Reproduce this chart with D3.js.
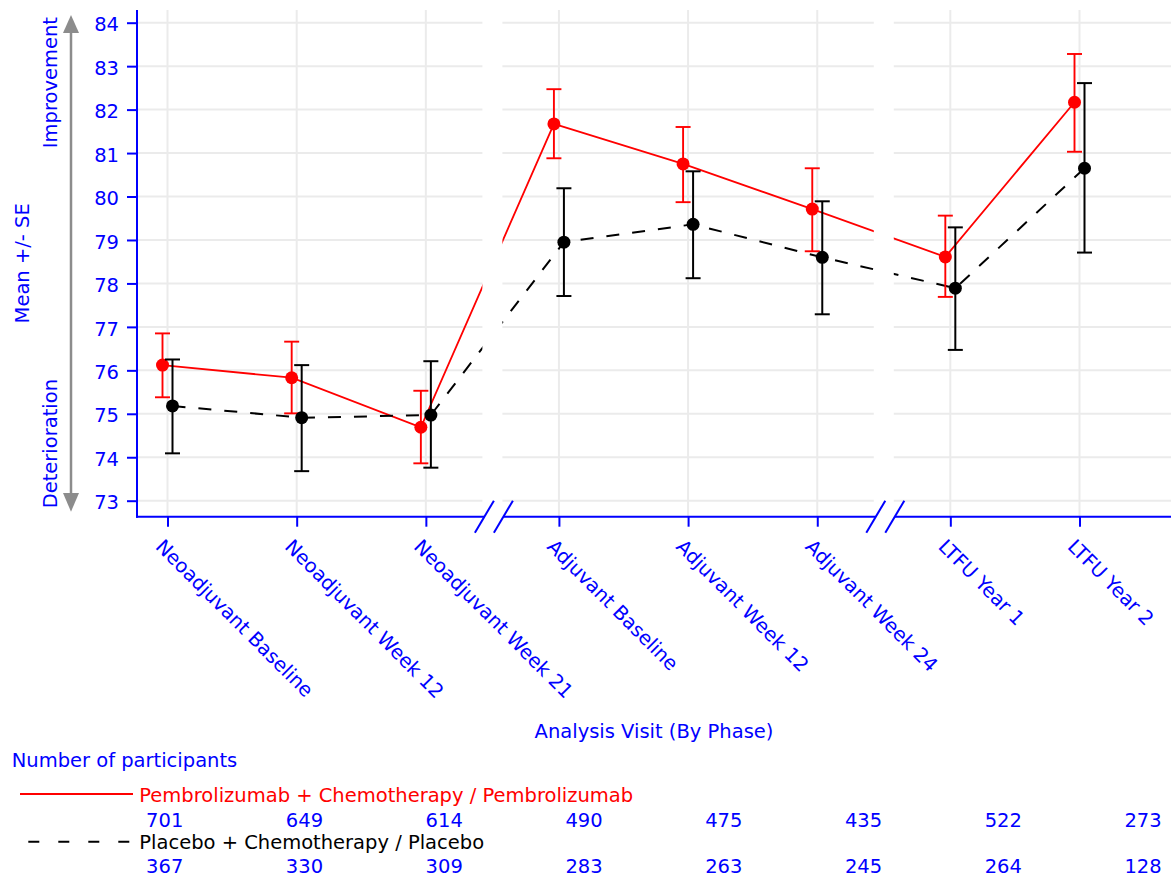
<!DOCTYPE html>
<html>
<head>
<meta charset="utf-8">
<script src="https://cdn.jsdelivr.net/npm/d3@7"></script>
<style>
  html, body { margin: 0; padding: 0; background: #fff; }
  svg { display: block; font-family: "DejaVu Sans", sans-serif; }
</style>
</head>
<body>
<svg id="chart" width="1171" height="878"></svg>
<script>
// ---- data ----
const categories = ["Neoadjuvant Baseline", "Neoadjuvant Week 12", "Neoadjuvant Week 21",
  "Adjuvant Baseline", "Adjuvant Week 12", "Adjuvant Week 24", "LTFU Year 1", "LTFU Year 2"];
const phases = [0, 0, 0, 1, 1, 1, 2, 2];
const pembroMean = [76.12, 75.83, 74.69, 81.67, 80.75, 79.71, 78.61, 82.17];
const pembroLow  = [75.38, 75.01, 73.86, 80.88, 79.87, 78.74, 77.69, 81.03];
const pembroHigh = [76.85, 76.66, 75.53, 82.47, 81.60, 80.65, 79.56, 83.28];
const placeboMean = [75.18, 74.91, 74.97, 78.95, 79.36, 78.60, 77.89, 80.65];
const placeboLow  = [74.09, 73.68, 73.76, 77.71, 78.12, 77.29, 76.47, 78.71];
const placeboHigh = [76.25, 76.12, 76.21, 80.19, 80.58, 79.89, 79.29, 82.61];
const pembroN = [701, 649, 614, 490, 475, 435, 522, 273];
const placeboN = [367, 330, 309, 283, 263, 245, 264, 128];
const yTicks = [73, 74, 75, 76, 77, 78, 79, 80, 81, 82, 83, 84];
const seriesNames = ["Pembrolizumab + Chemotherapy / Pembrolizumab", "Placebo + Chemotherapy / Placebo"];

// ---- layout ----
const BLUE = "#0000ff", RED = "#ff0000", GRID = "#ebebeb";
const FS = 19.5;
const plotLeft = 137, plotRight = 1171, plotTop = 10, plotBottom = 516.7;
const svg = d3.select("#chart");

const slot = categories.map((c, i) => i + 0.03 * phases[i]);
const x = d3.scaleLinear().domain([slot[0], slot[7]]).range([167.5, 1079.5]);
const y = d3.scaleLinear().domain([73, 84]).range([500.7, 22.7]);
const tableX = d3.scaleLinear().domain([0, 7]).range([183.3, 1161.7]);

// break positions (midpoints between phases)
const breaks = [];
for (let i = 1; i < categories.length; i++) {
  if (phases[i] !== phases[i - 1]) breaks.push(x((slot[i] + slot[i - 1]) / 2));
}

// ---- gridlines ----
const grid = svg.append("g");
grid.selectAll("line.h").data(yTicks).join("line")
  .attr("x1", plotLeft).attr("x2", plotRight)
  .attr("y1", d => y(d)).attr("y2", d => y(d))
  .attr("stroke", GRID).attr("stroke-width", 2);
grid.selectAll("line.v").data(slot).join("line")
  .attr("x1", d => x(d)).attr("x2", d => x(d))
  .attr("y1", plotTop).attr("y2", plotBottom)
  .attr("stroke", GRID).attr("stroke-width", 2);

// ---- series lines ----
const offR = -5, offB = 5;
const lineR = d3.line().x((d, i) => x(slot[i]) + offR).y(d => y(d));
const lineB = d3.line().x((d, i) => x(slot[i]) + offB).y(d => y(d));
svg.append("path").attr("d", lineR(pembroMean)).attr("fill", "none")
  .attr("stroke", RED).attr("stroke-width", 1.8);
svg.append("path").attr("d", lineB(placeboMean)).attr("fill", "none")
  .attr("stroke", "#000").attr("stroke-width", 2).attr("stroke-dasharray", "13,13");

// ---- break masks ----
svg.selectAll("rect.mask").data(breaks).join("rect")
  .attr("x", d => d - 10).attr("width", 20)
  .attr("y", plotTop - 2).attr("height", plotBottom - plotTop + 1)
  .attr("fill", "#fff");

// ---- error bars + points ----
function drawSeries(mean, low, high, off, color, sw) {
  const g = svg.append("g");
  const idx = d3.range(mean.length);
  g.selectAll("line.bar").data(idx).join("line")
    .attr("x1", i => x(slot[i]) + off).attr("x2", i => x(slot[i]) + off)
    .attr("y1", i => y(low[i])).attr("y2", i => y(high[i]))
    .attr("stroke", color).attr("stroke-width", sw);
  [low, high].forEach(arr => {
    g.selectAll(null).data(idx).join("line")
      .attr("x1", i => x(slot[i]) + off - 7.5).attr("x2", i => x(slot[i]) + off + 7.5)
      .attr("y1", i => y(arr[i])).attr("y2", i => y(arr[i]))
      .attr("stroke", color).attr("stroke-width", sw);
  });
  g.selectAll("circle").data(idx).join("circle")
    .attr("cx", i => x(slot[i]) + off).attr("cy", i => y(mean[i]))
    .attr("r", 6.5).attr("fill", color);
}
drawSeries(pembroMean, pembroLow, pembroHigh, offR, RED, 1.9);
drawSeries(placeboMean, placeboLow, placeboHigh, offB, "#000", 2);

// ---- y axis ----
const yAxis = d3.axisLeft(y).tickValues(yTicks).tickSize(10).tickSizeOuter(0).tickPadding(8);
const gy = svg.append("g").attr("transform", `translate(${plotLeft},0)`).call(yAxis);
gy.select(".domain").remove();
gy.selectAll(".tick line").attr("stroke", BLUE).attr("stroke-width", 2);
gy.selectAll(".tick text").attr("fill", BLUE).attr("font-size", FS)
  .attr("font-family", "DejaVu Sans").attr("dy", "0.42em");
svg.append("line").attr("x1", plotLeft).attr("x2", plotLeft)
  .attr("y1", plotTop).attr("y2", plotBottom + 1)
  .attr("stroke", BLUE).attr("stroke-width", 2);

// ---- x axis ----
const xAxis = d3.axisBottom(x).tickValues(slot).tickSize(10).tickSizeOuter(0)
  .tickFormat((d, i) => categories[i]);
const gx = svg.append("g").attr("transform", `translate(0,${plotBottom})`).call(xAxis);
gx.select(".domain").remove();
gx.selectAll(".tick line").attr("stroke", BLUE).attr("stroke-width", 2);
gx.selectAll(".tick text").attr("fill", BLUE).attr("font-size", FS)
  .attr("font-family", "DejaVu Sans")
  .attr("x", null).attr("y", null).attr("dy", null)
  .attr("text-anchor", "start")
  .attr("transform", "translate(-13.5,31) rotate(45)");

// axis line segments with break gaps
const segEdges = [plotLeft];
breaks.forEach(b => { segEdges.push(b + 1.5 - 9.5); segEdges.push(b + 1.5 + 9.5); });
segEdges.push(plotRight);
for (let k = 0; k < segEdges.length; k += 2) {
  svg.append("line").attr("x1", segEdges[k] - (k === 0 ? 1 : 0)).attr("x2", segEdges[k + 1])
    .attr("y1", plotBottom).attr("y2", plotBottom)
    .attr("stroke", BLUE).attr("stroke-width", 2);
}
breaks.forEach(b => {
  [-9.5, 9.5].forEach(o => {
    const cx = b + 1.5 + o;
    svg.append("line").attr("x1", cx - 9.5).attr("y1", plotBottom + 16)
      .attr("x2", cx + 9.5).attr("y2", plotBottom - 16)
      .attr("stroke", BLUE).attr("stroke-width", 2);
  });
});

// ---- y annotations ----
const ax = 71;
svg.append("line").attr("x1", ax).attr("x2", ax).attr("y1", 30).attr("y2", 496)
  .attr("stroke", "#8c8c8c").attr("stroke-width", 2.5);
svg.append("path").attr("d", `M${ax},15 L${ax - 8},33 L${ax + 8},33 Z`).attr("fill", "#8c8c8c");
svg.append("path").attr("d", `M${ax},511.7 L${ax - 8},493 L${ax + 8},493 Z`).attr("fill", "#8c8c8c");

svg.append("text").attr("transform", "translate(56.5,17) rotate(-90)")
  .attr("text-anchor", "end").attr("fill", BLUE).attr("font-size", FS).text("Improvement");
svg.append("text").attr("transform", "translate(56.5,508.3) rotate(-90)")
  .attr("text-anchor", "start").attr("fill", BLUE).attr("font-size", FS).text("Deterioration");
svg.append("text").attr("transform", `translate(29.3,${(plotTop + plotBottom) / 2}) rotate(-90)`)
  .attr("text-anchor", "middle").attr("fill", BLUE).attr("font-size", FS).text("Mean +/- SE");

// x title
svg.append("text").attr("x", (plotLeft + plotRight) / 2).attr("y", 738.3)
  .attr("text-anchor", "middle").attr("fill", BLUE).attr("font-size", FS)
  .text("Analysis Visit (By Phase)");

// ---- participants table / legend ----
svg.append("text").attr("x", 11.7).attr("y", 766.7).attr("fill", BLUE).attr("font-size", FS)
  .text("Number of participants");
svg.append("line").attr("x1", 20).attr("x2", 133).attr("y1", 794).attr("y2", 794)
  .attr("stroke", RED).attr("stroke-width", 1.8);
svg.append("text").attr("x", 139.3).attr("y", 801.7).attr("fill", RED).attr("font-size", FS)
  .text(seriesNames[0]);
svg.selectAll("text.nR").data(pembroN).join("text")
  .attr("x", (d, i) => tableX(i)).attr("y", 827.3).attr("text-anchor", "end")
  .attr("fill", BLUE).attr("font-size", FS).text(d => d);
svg.append("line").attr("x1", 28.3).attr("x2", 133).attr("y1", 841.7).attr("y2", 841.7)
  .attr("stroke", "#000").attr("stroke-width", 2).attr("stroke-dasharray", "11,19");
svg.append("text").attr("x", 139.3).attr("y", 849.3).attr("fill", "#000").attr("font-size", FS)
  .text(seriesNames[1]);
svg.selectAll("text.nB").data(placeboN).join("text")
  .attr("x", (d, i) => tableX(i)).attr("y", 872.7).attr("text-anchor", "end")
  .attr("fill", BLUE).attr("font-size", FS).text(d => d);
</script>
</body>
</html>
